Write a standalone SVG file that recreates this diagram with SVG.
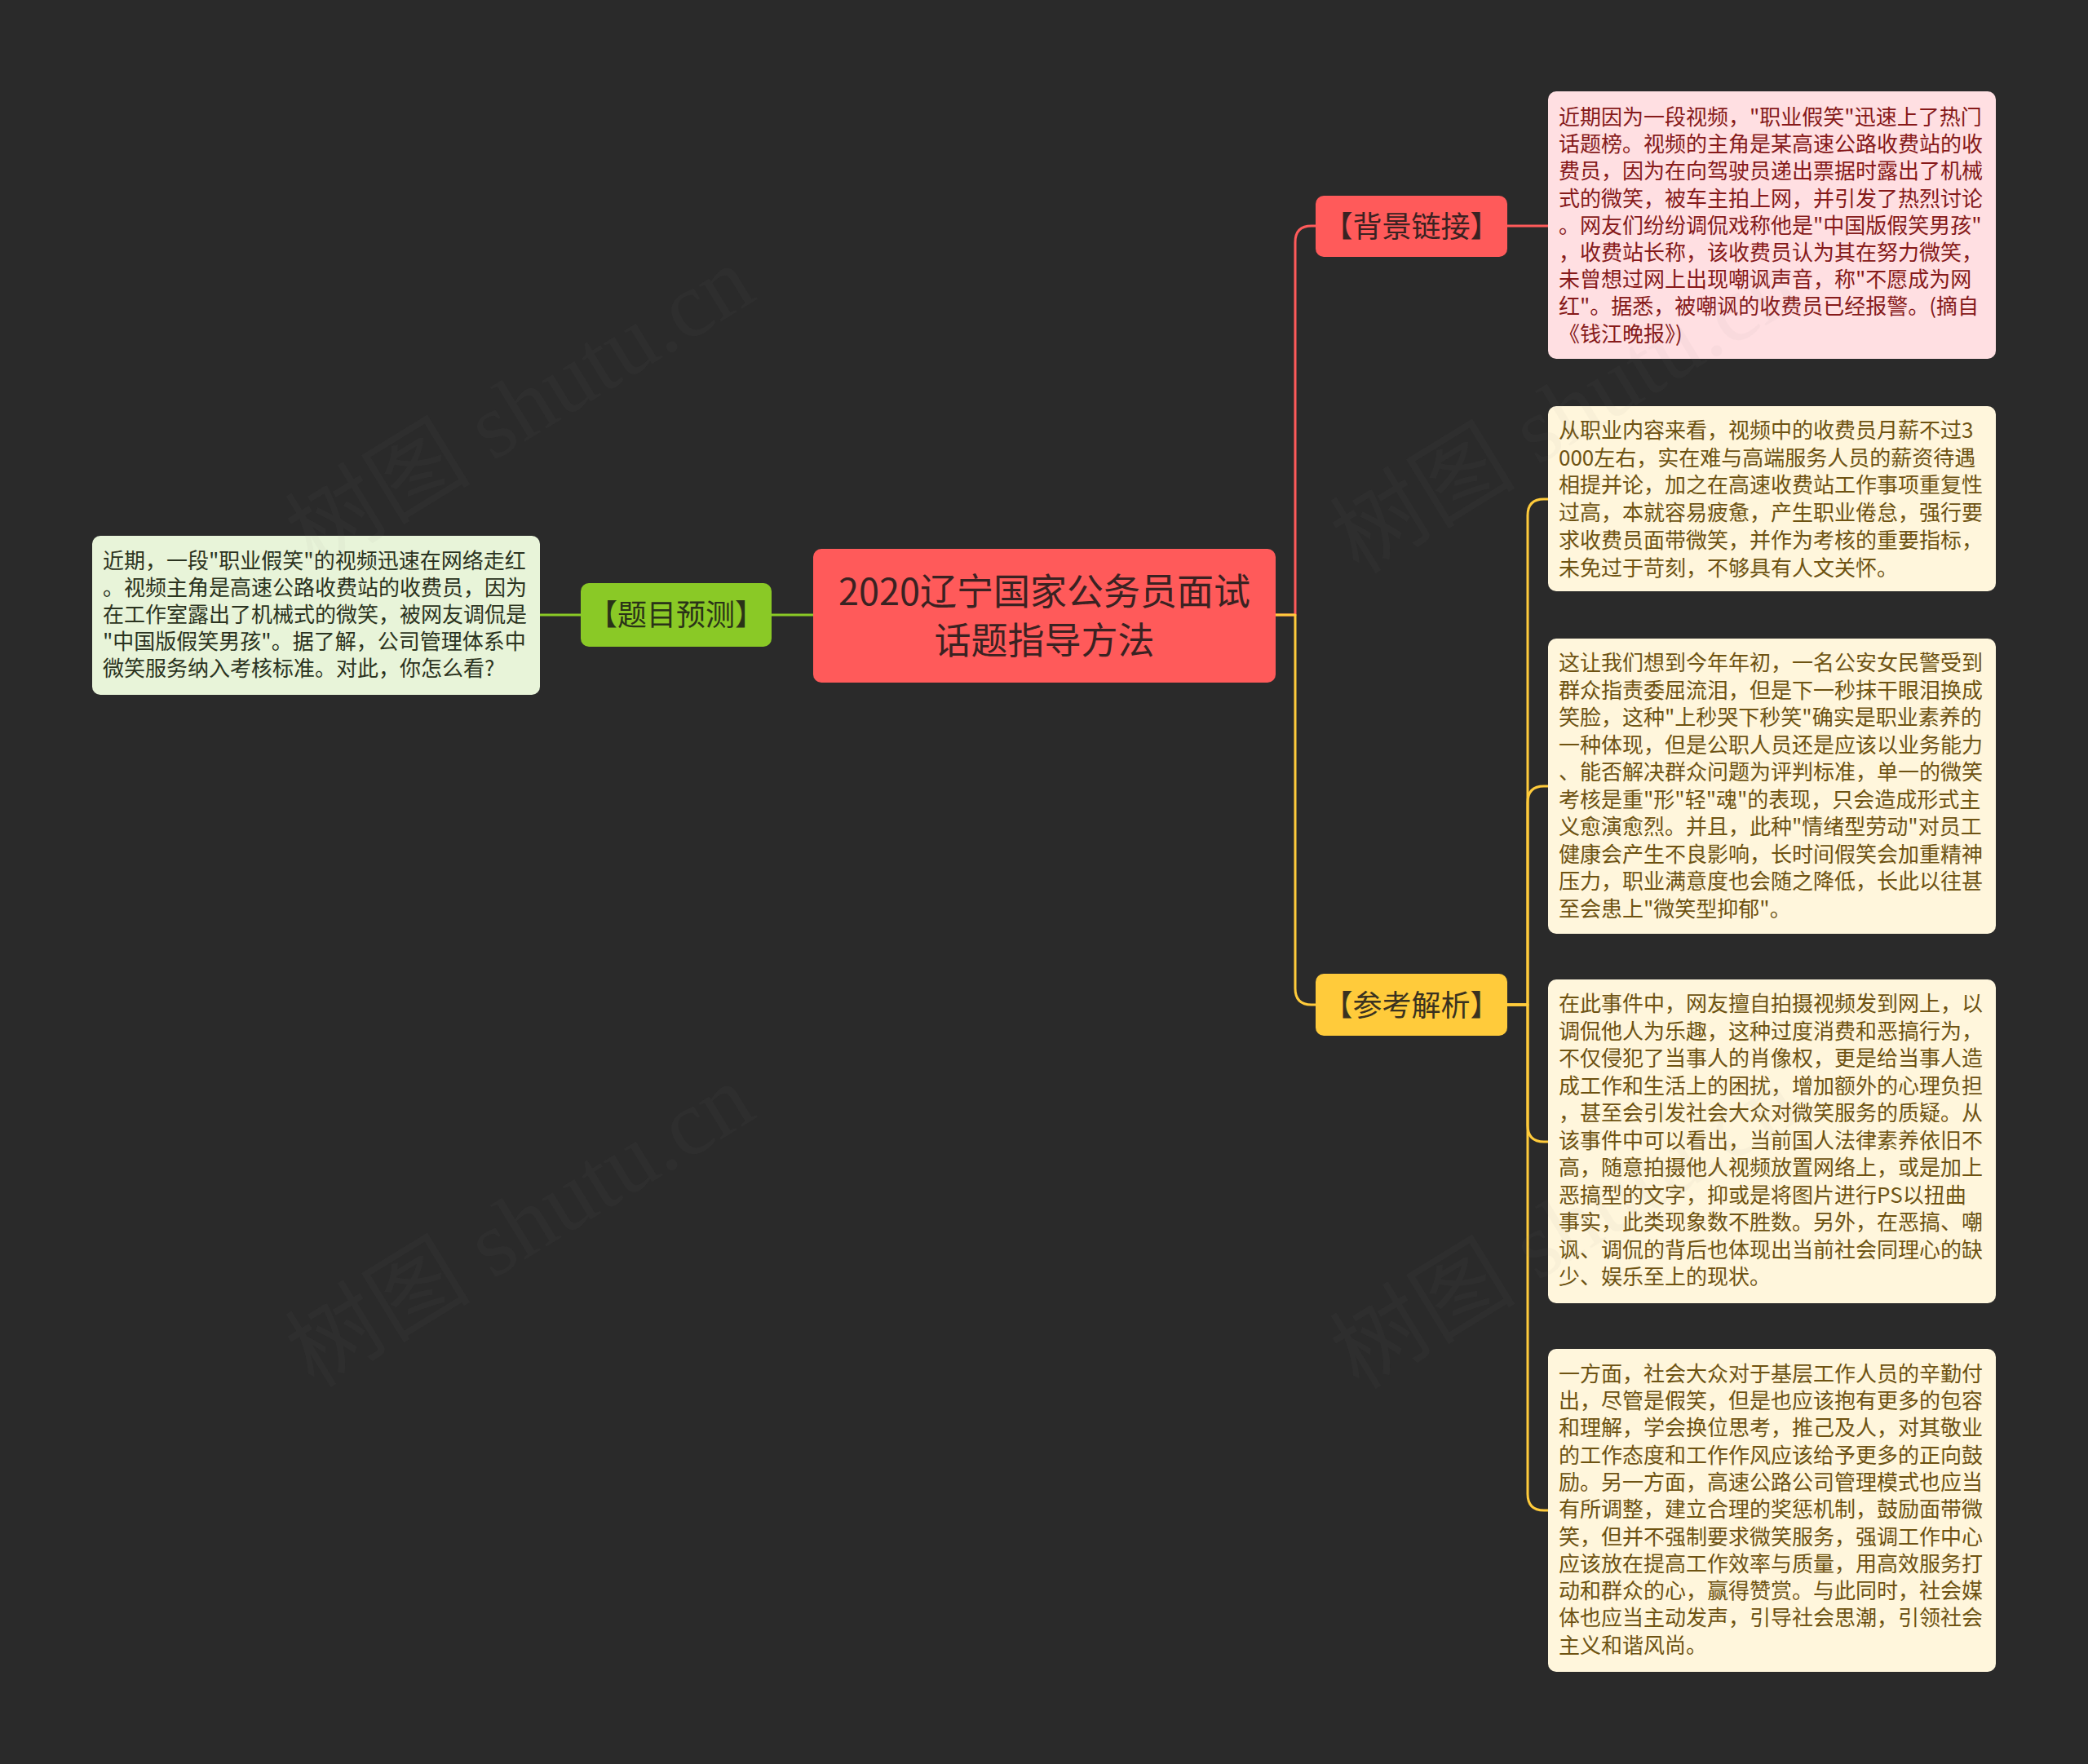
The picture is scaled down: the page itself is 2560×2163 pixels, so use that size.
<svg xmlns="http://www.w3.org/2000/svg" width="2560" height="2163" viewBox="0 0 2560 2163">
<style>
text{font-family:"Noto Sans CJK SC","Noto Sans",sans-serif}
.conn{fill:none;stroke-width:3;stroke-linecap:round;stroke-linejoin:round}
.red{stroke:#FF5A5A}
.yel{stroke:#FFCB3B}
.grn{stroke:#8AC926}
.body{font-size:26px}
.pinkt{fill:#861A1A}
.creamt{fill:#6E5312}
.greent{fill:#2B3320}
.branch{font-size:36px;text-anchor:middle}
.wm{font-family:"Liberation Serif","Noto Sans CJK SC",serif;font-size:114px;fill:#8a8a8a;fill-opacity:0.05}
</style>
<rect width="2560" height="2163" fill="#2A2A2A"/>

<g id="connectors">
  <path class="conn grn" d="M662,754 H712"/>
  <path class="conn grn" d="M946,754 H997"/>
  <path class="conn red" d="M1564,754 H1588 V297 Q1588,277 1608,277 H1613"/>
  <path class="conn yel" d="M1564,754 H1588 V1212 Q1588,1232 1608,1232 H1613"/>
  <path class="conn red" d="M1848,277 H1898"/>
  <path class="conn yel" d="M1848,1232 H1873 V632 Q1873,612 1893,612 H1898"/>
  <path class="conn yel" d="M1848,1232 H1873 V984 Q1873,964 1893,964 H1898"/>
  <path class="conn yel" d="M1848,1232 H1873 V1380 Q1873,1400 1893,1400 H1898"/>
  <path class="conn yel" d="M1848,1232 H1873 V1832 Q1873,1852 1893,1852 H1898"/>
</g>

<g id="node-root">
  <rect x="997" y="673" width="567" height="164" rx="10" fill="#FF5A5A"/>
  <text x="1280.5" y="742" font-size="45" text-anchor="middle" fill="#3A2222">2020辽宁国家公务员面试</text>
  <text x="1280.5" y="802" font-size="45" text-anchor="middle" fill="#3A2222">话题指导方法</text>
</g>

<g id="node-predict">
  <rect x="712" y="715" width="234" height="78" rx="10" fill="#8AC926"/>
  <text class="branch" x="829" y="767" fill="#2A3318">【题目预测】</text>
</g>

<g id="node-question">
  <rect x="113" y="657" width="549" height="195" rx="10" fill="#E8F4D9"/>
  <text class="body greent">
    <tspan x="126" y="697">近期，一段"职业假笑"的视频迅速在网络走红</tspan>
    <tspan x="126" y="730">。视频主角是高速公路收费站的收费员，因为</tspan>
    <tspan x="126" y="763">在工作室露出了机械式的微笑，被网友调侃是</tspan>
    <tspan x="126" y="796">"中国版假笑男孩"。据了解，公司管理体系中</tspan>
    <tspan x="126" y="829">微笑服务纳入考核标准。对此，你怎么看?</tspan>
  </text>
</g>

<g id="node-background">
  <rect x="1613" y="240" width="235" height="75" rx="10" fill="#FF5A5A"/>
  <text class="branch" x="1730.5" y="291" fill="#3A2222">【背景链接】</text>
</g>

<g id="node-background-text">
  <rect x="1898" y="112" width="549" height="328" rx="10" fill="#FFDFE2"/>
  <text class="body pinkt">
    <tspan x="1911" y="153">近期因为一段视频，"职业假笑"迅速上了热门</tspan>
    <tspan x="1911" y="186.2">话题榜。视频的主角是某高速公路收费站的收</tspan>
    <tspan x="1911" y="219.4">费员，因为在向驾驶员递出票据时露出了机械</tspan>
    <tspan x="1911" y="252.6">式的微笑，被车主拍上网，并引发了热烈讨论</tspan>
    <tspan x="1911" y="285.8">。网友们纷纷调侃戏称他是"中国版假笑男孩"</tspan>
    <tspan x="1911" y="319">，收费站长称，该收费员认为其在努力微笑，</tspan>
    <tspan x="1911" y="352.2">未曾想过网上出现嘲讽声音，称"不愿成为网</tspan>
    <tspan x="1911" y="385.4">红"。据悉，被嘲讽的收费员已经报警。(摘自</tspan>
    <tspan x="1911" y="418.6">《钱江晚报》)</tspan>
  </text>
</g>

<g id="node-analysis">
  <rect x="1613" y="1194" width="235" height="76" rx="10" fill="#FFCB3B"/>
  <text class="branch" x="1730.5" y="1246" fill="#3A3220">【参考解析】</text>
</g>

<g id="node-analysis-1">
  <rect x="1898" y="498" width="549" height="227" rx="10" fill="#FFF6DC"/>
  <text class="body creamt">
    <tspan x="1911" y="537">从职业内容来看，视频中的收费员月薪不过3</tspan>
    <tspan x="1911" y="570.7">000左右，实在难与高端服务人员的薪资待遇</tspan>
    <tspan x="1911" y="604.4">相提并论，加之在高速收费站工作事项重复性</tspan>
    <tspan x="1911" y="638.1">过高，本就容易疲惫，产生职业倦怠，强行要</tspan>
    <tspan x="1911" y="671.8">求收费员面带微笑，并作为考核的重要指标，</tspan>
    <tspan x="1911" y="705.5">未免过于苛刻，不够具有人文关怀。</tspan>
  </text>
</g>

<g id="node-analysis-2">
  <rect x="1898" y="783" width="549" height="362" rx="10" fill="#FFF6DC"/>
  <text class="body creamt">
    <tspan x="1911" y="822">这让我们想到今年年初，一名公安女民警受到</tspan>
    <tspan x="1911" y="855.5">群众指责委屈流泪，但是下一秒抹干眼泪换成</tspan>
    <tspan x="1911" y="889">笑脸，这种"上秒哭下秒笑"确实是职业素养的</tspan>
    <tspan x="1911" y="922.5">一种体现，但是公职人员还是应该以业务能力</tspan>
    <tspan x="1911" y="956">、能否解决群众问题为评判标准，单一的微笑</tspan>
    <tspan x="1911" y="989.5">考核是重"形"轻"魂"的表现，只会造成形式主</tspan>
    <tspan x="1911" y="1023">义愈演愈烈。并且，此种"情绪型劳动"对员工</tspan>
    <tspan x="1911" y="1056.5">健康会产生不良影响，长时间假笑会加重精神</tspan>
    <tspan x="1911" y="1090">压力，职业满意度也会随之降低，长此以往甚</tspan>
    <tspan x="1911" y="1123.5">至会患上"微笑型抑郁"。</tspan>
  </text>
</g>

<g id="node-analysis-3">
  <rect x="1898" y="1201" width="549" height="397" rx="10" fill="#FFF6DC"/>
  <text class="body creamt">
    <tspan x="1911" y="1240.3">在此事件中，网友擅自拍摄视频发到网上，以</tspan>
    <tspan x="1911" y="1273.8">调侃他人为乐趣，这种过度消费和恶搞行为，</tspan>
    <tspan x="1911" y="1307.3">不仅侵犯了当事人的肖像权，更是给当事人造</tspan>
    <tspan x="1911" y="1340.8">成工作和生活上的困扰，增加额外的心理负担</tspan>
    <tspan x="1911" y="1374.3">，甚至会引发社会大众对微笑服务的质疑。从</tspan>
    <tspan x="1911" y="1407.8">该事件中可以看出，当前国人法律素养依旧不</tspan>
    <tspan x="1911" y="1441.3">高，随意拍摄他人视频放置网络上，或是加上</tspan>
    <tspan x="1911" y="1474.8">恶搞型的文字，抑或是将图片进行PS以扭曲</tspan>
    <tspan x="1911" y="1508.3">事实，此类现象数不胜数。另外，在恶搞、嘲</tspan>
    <tspan x="1911" y="1541.8">讽、调侃的背后也体现出当前社会同理心的缺</tspan>
    <tspan x="1911" y="1575.3">少、娱乐至上的现状。</tspan>
  </text>
</g>

<g id="node-analysis-4">
  <rect x="1898" y="1654" width="549" height="396" rx="10" fill="#FFF6DC"/>
  <text class="body creamt">
    <tspan x="1911" y="1693.7">一方面，社会大众对于基层工作人员的辛勤付</tspan>
    <tspan x="1911" y="1727">出，尽管是假笑，但是也应该抱有更多的包容</tspan>
    <tspan x="1911" y="1760.3">和理解，学会换位思考，推己及人，对其敬业</tspan>
    <tspan x="1911" y="1793.6">的工作态度和工作作风应该给予更多的正向鼓</tspan>
    <tspan x="1911" y="1826.9">励。另一方面，高速公路公司管理模式也应当</tspan>
    <tspan x="1911" y="1860.2">有所调整，建立合理的奖惩机制，鼓励面带微</tspan>
    <tspan x="1911" y="1893.5">笑，但并不强制要求微笑服务，强调工作中心</tspan>
    <tspan x="1911" y="1926.8">应该放在提高工作效率与质量，用高效服务打</tspan>
    <tspan x="1911" y="1960.1">动和群众的心，赢得赞赏。与此同时，社会媒</tspan>
    <tspan x="1911" y="1993.4">体也应当主动发声，引导社会思潮，引领社会</tspan>
    <tspan x="1911" y="2026.7">主义和谐风尚。</tspan>
  </text>
</g>

<g id="watermark">
  <text class="wm" transform="translate(385,700) rotate(-31.5)">树图 shutu.cn</text>
  <text class="wm" transform="translate(385,1703) rotate(-31.5)">树图 shutu.cn</text>
  <text class="wm" transform="translate(1666,705) rotate(-31.5)">树图 shutu.cn</text>
  <text class="wm" transform="translate(1666,1705) rotate(-31.5)">树图 shutu.cn</text>
</g>
</svg>
